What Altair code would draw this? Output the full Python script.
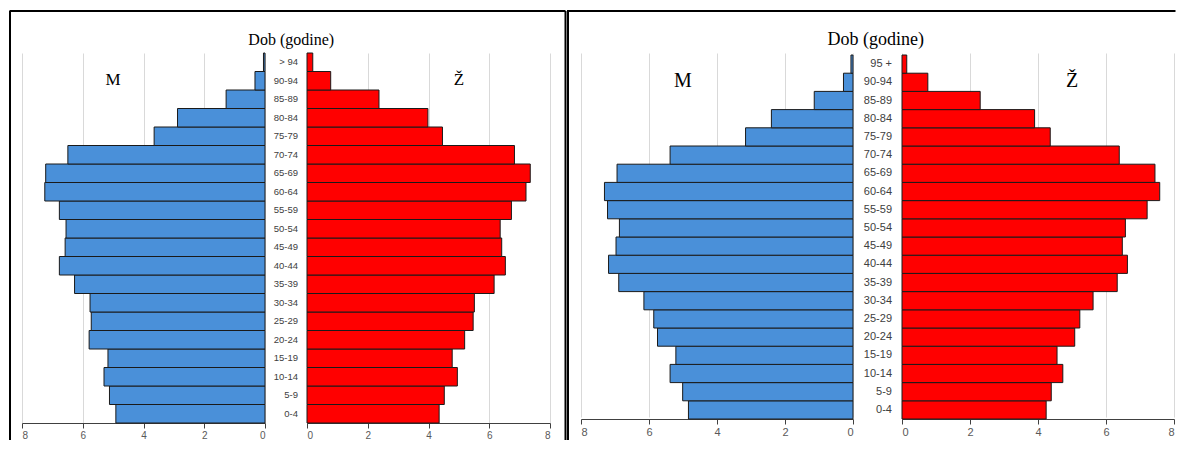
import altair as alt
import pandas as pd

# ---------------- data ----------------
ages_left = ["0-4", "5-9", "10-14", "15-19", "20-24", "25-29", "30-34", "35-39",
             "40-44", "45-49", "50-54", "55-59", "60-64", "65-69", "70-74",
             "75-79", "80-84", "85-89", "90-94", "> 94"]
ages_right = ages_left[:-1] + ["95 +"]

m_left = [4.91, 5.12, 5.30, 5.17, 5.79, 5.72, 5.76, 6.27, 6.77, 6.58,
          6.55, 6.77, 7.25, 7.22, 6.49, 3.65, 2.88, 1.28, 0.33, 0.05]
f_left = [4.35, 4.52, 4.95, 4.78, 5.19, 5.47, 5.51, 6.16, 6.53, 6.41,
          6.36, 6.73, 7.21, 7.35, 6.83, 4.46, 3.98, 2.37, 0.78, 0.19]
m_right = [4.84, 5.01, 5.38, 5.21, 5.75, 5.86, 6.15, 6.89, 7.19, 6.97,
           6.87, 7.22, 7.31, 6.94, 5.38, 3.16, 2.40, 1.14, 0.28, 0.06]
f_right = [4.24, 4.39, 4.73, 4.56, 5.08, 5.23, 5.62, 6.33, 6.63, 6.48,
           6.57, 7.21, 7.58, 7.44, 6.39, 4.36, 3.90, 2.30, 0.76, 0.14]

sex_labels = ["M", "Ž"]
sex_label_age = "90-94"
sex_label_value = 5
title_text = "Dob (godine)"
tick_values = [0, 2, 4, 6, 8]

BLUE = "#4A90D9"
RED = "#FF0000"
EDGE = "#1a1a1a"


def xaxis(fs):
    return alt.Axis(values=tick_values, grid=True, gridColor="#d9d9d9", gridWidth=1,
                    title=None, domainColor="#404040", tickColor="#404040", tickSize=5,
                    labelColor="#595959", labelFontSize=fs, labelFont="Liberation Sans",
                    labelPadding=2)


def side(ages, values, field, color, rng, yrng, tick_fs, sex_text, sex_fs):
    df = pd.DataFrame({"age": ages, field: values})
    yscale = alt.Scale(domain=list(reversed(ages)), paddingInner=0, paddingOuter=0, range=yrng)
    xscale = alt.Scale(domain=[0, 8], range=rng, nice=False, zero=True)
    bars = alt.Chart(df).mark_bar(fill=color, stroke=EDGE, strokeWidth=1).encode(
        x=alt.X(f"{field}:Q", scale=xscale, axis=xaxis(tick_fs)),
        y=alt.Y("age:N", scale=yscale, axis=None, sort=None),
    )
    lab = pd.DataFrame({field: [sex_label_value], "age": [sex_label_age], "t": [sex_text]})
    txt = alt.Chart(lab).mark_text(font="Liberation Serif", fontSize=sex_fs,
                                   color="black", baseline="middle", dy=-1).encode(
        x=f"{field}:Q", y=alt.Y("age:N", sort=None), text="t:N")
    return df, bars, txt


one = pd.DataFrame({"k": [0]})


def rule(**enc):
    return alt.Chart(one).mark_rule(color="black", strokeWidth=2).encode(**enc)


def title_mark(x, fs):
    return alt.Chart(one).mark_text(font="Liberation Serif", fontSize=fs, color="black",
                                    baseline="alphabetic", align="center").encode(
        x=alt.value(x), y=alt.value(-8), text=alt.value(title_text))


def age_labels(df, x, fs):
    return alt.Chart(df).mark_text(font="Liberation Sans", fontSize=fs, color="#404040",
                                   align="right", baseline="middle").encode(
        x=alt.value(x), y=alt.Y("age:N", sort=None), text="age:N")


H_L = 370
H_R = 366
BOTTOM = H_L + 17  # lower end of the frame's side lines, relative to the plot top

# ---- left panel ----
df_ml, b_ml, t_ml = side(ages_left, m_left, "m", BLUE, [243, 0], [0, H_L], 10, sex_labels[0], 17)
df_fl, b_fl, t_fl = side(ages_left, f_left, "f", RED, [42, 285], [0, H_L], 10, sex_labels[1], 17)
ml = alt.layer(
    b_ml, t_ml,
    rule(x=alt.value(-12), y=alt.value(-42), y2=alt.value(BOTTOM)),
    rule(x=alt.value(-12.5), x2=alt.value(543.5), y=alt.value(-42)),
    rule(x=alt.value(543.5), y=alt.value(-42), y2=alt.value(BOTTOM)),
).properties(width=243, height=H_L)
fl = alt.layer(b_fl, t_fl, age_labels(df_fl, 33, 9.5), title_mark(26.2, 16)).properties(
    width=316, height=H_L)

# ---- right panel ----
df_mr, b_mr, t_mr = side(ages_right, m_right, "m", BLUE, [272, 0], [2, H_R], 11, sex_labels[0], 20)
df_fr, b_fr, t_fr = side(ages_right, f_right, "f", RED, [0, 272], [2, H_R], 11, sex_labels[1], 20)
mr = alt.layer(
    b_mr, t_mr,
    rule(x=alt.value(-13), y=alt.value(-42), y2=alt.value(BOTTOM)),
    rule(x=alt.value(-14), x2=alt.value(594.5), y=alt.value(-42)),
    title_mark(294.8, 18),
).properties(width=321, height=H_R)
fr = alt.layer(b_fr, t_fr, age_labels(df_fr, -10, 11)).properties(width=272, height=H_R)

chart = alt.hconcat(ml, fl, mr, fr, spacing=0, bounds="flush").properties(
    padding={"left": 0, "top": 2, "right": 0, "bottom": 0}
).configure_view(stroke=None)

chart.save("out.html", embed_options={"renderer": "svg", "actions": False})
